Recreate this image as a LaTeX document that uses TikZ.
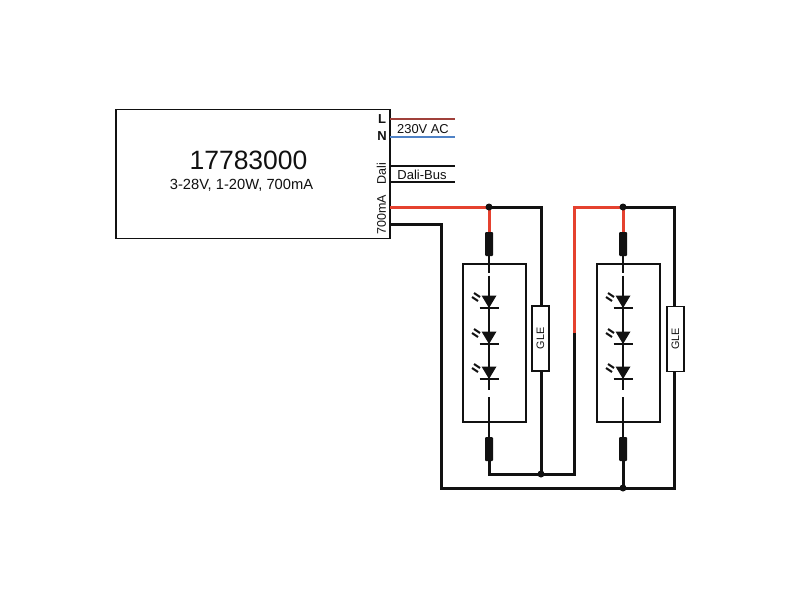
\documentclass[tikz,border=0pt]{standalone}
\usepackage{fontspec}
\setmainfont{Liberation Sans}
\usetikzlibrary{arrows.meta}
\definecolor{wirered}{HTML}{E5412F}
\definecolor{wirebrown}{HTML}{A0403A}
\definecolor{wireblue}{HTML}{4F82C6}
\definecolor{ink}{HTML}{111111}
\tikzset{
  modbox/.style={draw=ink,line width=1.7pt,minimum width=63pt,minimum height=158pt,inner sep=0pt},
  glebox/.style={draw=ink,line width=1.9pt,fill=white,minimum width=17pt,minimum height=65pt,inner sep=0pt},
  res/.style={fill=ink,draw=none,minimum width=8pt,minimum height=24pt,inner sep=0pt,rounded corners=1pt},
  lab/.style={inner sep=0pt,text=ink},
  heavy/.style={draw=ink,line width=3pt,line join=miter},
  redw/.style={draw=wirered,line width=3pt},
  thinw/.style={draw=ink,line width=2pt},
  bus/.style={draw=ink,line width=1.7pt},
  dot/.style={circle,fill=ink,minimum size=7pt,inner sep=0pt},
  pics/ledsym/.style={code={
    \fill[ink] (-7.5,-6.5) -- (7.5,-6.5) -- (0,6) -- cycle;
    \draw[ink,line width=2pt] (-9.5,6) -- (9.5,6);
    \draw[ink,line width=2pt] (-17,-5) -- (-11,-1);
    \draw[ink,line width=2pt] (-15,-9) -- (-9,-5);
  }},
}
\begin{document}
\begin{tikzpicture}[x=1pt,y=-1pt]
\useasboundingbox (0,0) rectangle (800,600);
\fill[white] (0,0) rectangle (800,600);

% driver
\node[draw=ink,line width=1.7pt,minimum width=274pt,minimum height=129pt,inner sep=0pt] (drv) at (253,174) {};
\node[lab,font=\fontsize{26.5}{28}\selectfont] (title) at (248.5,160) {17783000};
\node[lab,font=\fontsize{14.7}{16}\selectfont] (spec) at (241.5,185.5) {3-28V, 1-20W, 700mA};
\node[lab,font=\fontsize{13}{14}\selectfont\bfseries] (lL) at (382,119) {L};
\node[lab,font=\fontsize{13}{14}\selectfont\bfseries] (lN) at (382,136.5) {N};
\node[lab,font=\fontsize{12.5}{14}\selectfont,rotate=90] (lD) at (381.5,173.5) {Dali};
\node[lab,font=\fontsize{12.5}{14}\selectfont,rotate=90] (lM) at (381.5,214.5) {700mA};

% coordinates of the wires
\coordinate (Ls) at (390,119);  \coordinate (Le) at (455,119);
\coordinate (Ns) at (390,137);  \coordinate (Ne) at (455,137);
\coordinate (D1s) at (390,166); \coordinate (D1e) at (455,166);
\coordinate (D2s) at (390,182); \coordinate (D2e) at (455,182);
\coordinate (Ms) at (390,207);
\coordinate (Rs) at (390,224);
\coordinate (Rc) at (441,224);
\coordinate (Rb) at (441,488);
\coordinate (Tc) at (574,207);
\coordinate (Tm) at (574,333);
\coordinate (Tb) at (574,474);
\coordinate (G1t) at (541,207);
\coordinate (G2t) at (674,207);
\coordinate (G2b) at (674,488);

\node[lab,font=\fontsize{12.9}{14}\selectfont] (ac) at (423,129) {230V AC};
\node[lab,font=\fontsize{13}{14}\selectfont] (bus) at (422,175) {Dali-Bus};

\draw[line width=2.5pt,draw=wirebrown] (Ls) -- (Le);
\draw[line width=2.5pt,draw=wireblue] (Ns) -- (Ne);
\draw[bus] (D1s) -- (D1e);
\draw[bus] (D2s) -- (D2e);

\node[modbox] (m1) at (494.5,343) {};
\node[modbox] (m2) at (628.5,343) {};

\node[res] (r1t) at (489,244) {};
\node[res] (r1b) at (489,449) {};
\node[res] (r2t) at (623,244) {};
\node[res] (r2b) at (623,449) {};

\coordinate (a1t) at (489,272.5); \coordinate (a1u) at (489,275.5);
\coordinate (a1d) at (489,390);   \coordinate (a1e) at (489,397);
\coordinate (a2t) at (623,272.5); \coordinate (a2u) at (623,275.5);
\coordinate (a2d) at (623,390);   \coordinate (a2e) at (623,397);

% inner LED lines
\draw[thinw] (r1t) -- (a1t);
\draw[thinw] (a1u) -- (a1d);
\draw[thinw] (a1e) -- (r1b);
\draw[thinw] (r2t) -- (a2t);
\draw[thinw] (a2u) -- (a2d);
\draw[thinw] (a2e) -- (r2b);

\foreach \yy in {302,338,373}{
  \pic at (489,\yy) {ledsym};
  \pic at (623,\yy) {ledsym};
}

% power wiring
\coordinate (j1) at (489,207);
\coordinate (j2) at (623,207);
\coordinate (j3) at (541,474);
\coordinate (j4) at (623,488);
\draw[redw] (Ms) -- (j1);
\draw[redw] (j1) -- (r1t.north);
\draw[redw] (j2) -- (r2t.north);
\draw[redw,line join=miter] (j2) -- (Tc) -- (Tm);
\draw[heavy] (Rs) -- (Rc) -- (Rb) -- (G2b) -- (674,371);
\draw[heavy] (j1) -- (G1t) -- (541,306);
\draw[heavy] (j2) -- (G2t) -- (674,306);
\draw[heavy] (Tm) -- (Tb) -- (489,474) -- (r1b.south);
\draw[heavy] (541,371) -- (j3);
\draw[heavy] (r2b.south) -- (j4);
\node[dot] (d1) at (j1) {};
\node[dot] (d2) at (j2) {};
\node[dot] (d3) at (j3) {};
\node[dot] (d4) at (j4) {};

\node[glebox] (g1) at (540.5,338.5) {};
\node[glebox] (g2) at (675.5,339) {};
\node[lab,rotate=90,font=\fontsize{10.8}{12}\selectfont] (g1t) at (g1) {GLE};
\node[lab,rotate=90,font=\fontsize{10.8}{12}\selectfont] (g2t) at (g2) {GLE};
\end{tikzpicture}
\end{document}
